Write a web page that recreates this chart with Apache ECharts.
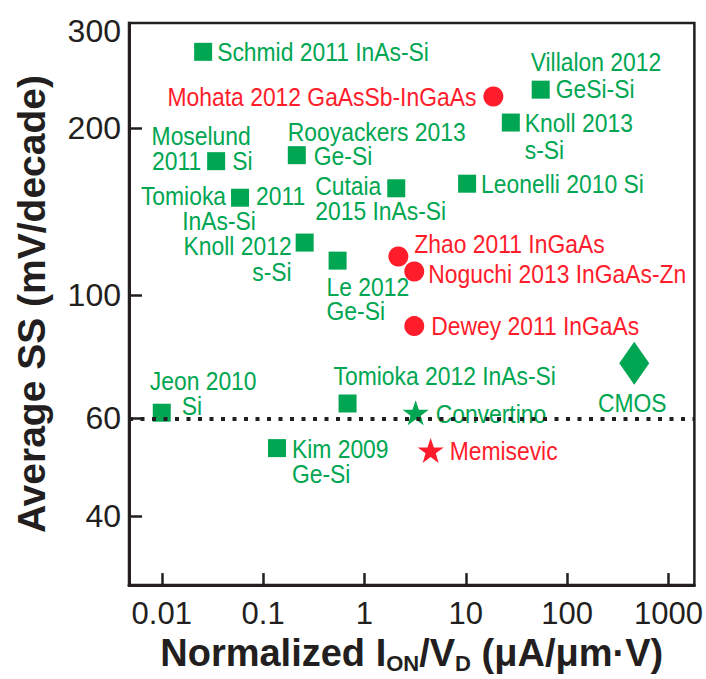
<!DOCTYPE html>
<html>
<head>
<meta charset="utf-8">
<script src="https://cdn.jsdelivr.net/npm/echarts@6/dist/echarts.min.js"></script>
<style>
  html, body { margin: 0; padding: 0; background: #ffffff; }
  #chart { width: 706px; height: 679px; }
</style>
</head>
<body>
<div id="chart"></div>
<script>
// ---- Data ----
const squareNames = ['Schmid 2011 InAs-Si', 'Villalon 2012 GeSi-Si', 'Knoll 2013 s-Si', 'Moselund 2011 Si',
  'Rooyackers 2013 Ge-Si', 'Tomioka 2011 InAs-Si', 'Cutaia 2015 InAs-Si', 'Leonelli 2010 Si',
  'Knoll 2012 s-Si', 'Le 2012 Ge-Si', 'Jeon 2010 Si', 'Tomioka 2012 InAs-Si', 'Kim 2009 Ge-Si'];
const squareIon = [0.0256, 54.8, 27.8, 0.0344, 0.215, 0.0592, 2.06, 10.3, 0.257, 0.543, 0.01, 0.681, 0.137];
const squareSS  = [275, 235, 205, 174.6, 179, 150, 156, 159, 124.5, 115.5, 61.4, 63.8, 53];

const circleNames = ['Mohata 2012 GaAsSb-InGaAs', 'Zhao 2011 InGaAs', 'Noguchi 2013 InGaAs-Zn', 'Dewey 2011 InGaAs'];
const circleIon = [18.7, 2.16, 3.1, 3.1];
const circleSS  = [228.4, 117.5, 110.4, 88];

const greenStarNames = ['Convertino'];
const greenStarIon = [3.2];
const greenStarSS  = [61.4];

const redStarNames = ['Memisevic'];
const redStarIon = [4.5];
const redStarSS  = [52.5];

const cmosNames = ['CMOS'];
const cmosIon = [459];
const cmosSS  = [75.4];

const xTicks = [0.01, 0.1, 1, 10, 100, 1000];
const xTickLabels = ['0.01', '0.1', '1', '10', '100', '1000'];
const yTickMarks = [40, 60, 100, 200];
const yTicks = [40, 60, 100, 200, 300];
const yTickLabels = ['40', '60', '100', '200', '300'];
const idealSS = 60;

// ---- Styling / layout ----
const GREEN = '#00a651';
const RED = '#ff1c2b';
const INK = '#231f20';
const LABEL_FONT = '"Liberation Sans", Arial, sans-serif';
const AXIS_FONT = '"Liberation Sans", Arial, Helvetica, sans-serif';
const LABEL_SQUEEZE = 0.88;

// label pieces: [text, dx, dy, align] relative to the marker centre (px)
const labelLayout = {
  'Schmid 2011 InAs-Si': [['Schmid 2011 InAs-Si', 14, 0, 'left']],
  'Villalon 2012 GeSi-Si': [['Villalon 2012', -10, -28, 'left'], ['GeSi-Si', 15, -1, 'left']],
  'Knoll 2013 s-Si': [['Knoll 2013', 14, 0, 'left'], ['s-Si', 14, 27, 'left']],
  'Moselund 2011 Si': [['Moselund', -15, -25, 'center'], ['2011', -15, 0, 'right'], ['Si', 16, 0, 'left']],
  'Rooyackers 2013 Ge-Si': [['Rooyackers 2013', -9, -23, 'left'], ['Ge-Si', 17, 1, 'left']],
  'Tomioka 2011 InAs-Si': [['Tomioka', -14, -2, 'right'], ['2011', 16, -2, 'left'], ['InAs-Si', -21, 23, 'center']],
  'Cutaia 2015 InAs-Si': [['Cutaia', -15, -2, 'right'], ['2015 InAs-Si', -81, 23, 'left']],
  'Leonelli 2010 Si': [['Leonelli 2010 Si', 14, 0, 'left']],
  'Knoll 2012 s-Si': [['Knoll 2012', -13, 3, 'right'], ['s-Si', -13, 29, 'right']],
  'Le 2012 Ge-Si': [['Le 2012', -11, 26, 'left'], ['Ge-Si', -11, 50, 'left']],
  'Jeon 2010 Si': [['Jeon 2010', -12, -32, 'left'], ['Si', 20, -7, 'left']],
  'Tomioka 2012 InAs-Si': [['Tomioka 2012 InAs-Si', -14, -28, 'left']],
  'Kim 2009 Ge-Si': [['Kim 2009', 15, 1, 'left'], ['Ge-Si', 15, 26, 'left']],
  'Mohata 2012 GaAsSb-InGaAs': [['Mohata 2012 GaAsSb-InGaAs', -17, 0, 'right']],
  'Zhao 2011 InGaAs': [['Zhao 2011 InGaAs', 16, -13, 'left']],
  'Noguchi 2013 InGaAs-Zn': [['Noguchi 2013 InGaAs-Zn', 14, 2, 'left']],
  'Dewey 2011 InGaAs': [['Dewey 2011 InGaAs', 17, 0, 'left']],
  'Convertino': [['Convertino', 20, 1, 'left']],
  'Memisevic': [['Memisevic', 19, 1, 'left']],
  'CMOS': [['CMOS', -2, 40, 'center']]
};

const groups = [
  { names: squareNames, ion: squareIon, ss: squareSS, color: GREEN },
  { names: circleNames, ion: circleIon, ss: circleSS, color: RED },
  { names: greenStarNames, ion: greenStarIon, ss: greenStarSS, color: GREEN },
  { names: redStarNames, ion: redStarIon, ss: redStarSS, color: RED },
  { names: cmosNames, ion: cmosIon, ss: cmosSS, color: GREEN }
];

const pieces = [];
groups.forEach(g => {
  g.names.forEach((n, i) => {
    (labelLayout[n] || []).forEach(p => {
      pieces.push({ x: g.ion[i], y: g.ss[i], text: p[0], dx: p[1], dy: p[2], align: p[3], color: g.color });
    });
  });
});

const STAR = 'path://M50,0 L61.8,35.1 L98,35.1 L68.9,56.8 L79.4,92 L50,70.7 L20.6,92 L31.1,56.8 L2,35.1 L38.2,35.1 Z';

function pts(names, ion, ss) {
  return names.map((n, i) => ({ name: n, value: [ion[i], ss[i]] }));
}

const chart = echarts.init(document.getElementById('chart'), null, { renderer: 'svg' });
chart.setOption({
  animation: false,
  backgroundColor: '#ffffff',
  grid: { left: 129, top: 23, right: 9, bottom: 90, show: true, borderColor: INK, borderWidth: 2.5, backgroundColor: 'transparent' },
  xAxis: {
    type: 'log', logBase: 10, min: 0.00475, max: 1800,
    axisLine: { show: true, lineStyle: { color: INK, width: 3 } },
    axisTick: { show: true, inside: true, length: 12, lineStyle: { color: INK, width: 2.5 }, customValues: xTicks },
    axisLabel: {
      customValues: xTicks, margin: 13, color: INK, fontSize: 31, fontFamily: AXIS_FONT,
      formatter: v => { const k = xTicks.findIndex(t => Math.abs(Math.log10(t) - Math.log10(v)) < 1e-6); return k >= 0 ? xTickLabels[k] : ''; }
    },
    splitLine: { show: false }, minorTick: { show: false },
    name: '{b|Normalized I}{s|ON}{b|/V}{s|D}{b| (μA/μm·V)}',
    nameLocation: 'middle', nameGap: 46,
    nameTextStyle: {
      color: INK,
      rich: {
        b: { fontSize: 38, fontWeight: 'bold', fontFamily: AXIS_FONT, color: INK, lineHeight: 42 },
        s: { fontSize: 22, fontWeight: 'bold', fontFamily: AXIS_FONT, color: INK, verticalAlign: 'bottom', lineHeight: 22 }
      }
    }
  },
  yAxis: {
    type: 'log', logBase: 10, min: 30, max: 310,
    axisLine: { show: true, lineStyle: { color: INK, width: 3 } },
    axisTick: { show: true, inside: true, length: 13, lineStyle: { color: INK, width: 2.5 }, customValues: yTickMarks },
    axisLabel: {
      customValues: yTicks, margin: 8, color: INK, fontSize: 32, fontFamily: AXIS_FONT,
      formatter: v => { const k = yTicks.findIndex(t => Math.abs(Math.log10(t) - Math.log10(v)) < 1e-6); return k >= 0 ? yTickLabels[k] : ''; }
    },
    splitLine: { show: false }, minorTick: { show: false },
    name: 'Average SS (mV/decade)',
    nameLocation: 'middle', nameGap: 78,
    nameTextStyle: { fontSize: 39, fontWeight: 'bold', fontFamily: AXIS_FONT, color: INK }
  },
  series: [
    {
      name: 'Si/Ge/InAs-Si TFETs', type: 'scatter', symbol: 'rect', symbolSize: 18,
      itemStyle: { color: GREEN, opacity: 1 },
      data: pts(squareNames, squareIon, squareSS),
      markLine: {
        silent: true, symbol: 'none', label: { show: false },
        lineStyle: { color: INK, width: 4, type: [4, 7.5], opacity: 1 },
        data: [{ yAxis: idealSS }]
      },
      z: 3
    },
    {
      name: 'III-V TFETs', type: 'scatter', symbol: 'circle', symbolSize: 20,
      itemStyle: { color: RED, opacity: 1 },
      data: pts(circleNames, circleIon, circleSS), z: 3
    },
    {
      name: 'Convertino', type: 'scatter', symbol: STAR, symbolSize: [26, 25],
      itemStyle: { color: GREEN, opacity: 1 },
      data: pts(greenStarNames, greenStarIon, greenStarSS), z: 3
    },
    {
      name: 'Memisevic', type: 'scatter', symbol: STAR, symbolSize: [26, 25],
      itemStyle: { color: RED, opacity: 1 },
      data: pts(redStarNames, redStarIon, redStarSS), z: 3
    },
    {
      name: 'CMOS', type: 'scatter', symbol: 'diamond', symbolSize: [30, 43],
      itemStyle: { color: GREEN, opacity: 1 },
      data: pts(cmosNames, cmosIon, cmosSS), z: 3
    },
    {
      name: 'labels', type: 'custom', clip: false, silent: true, z: 4,
      data: pieces.map(p => [p.x, p.y]),
      renderItem: (params, api) => {
        const p = pieces[params.dataIndex];
        const c = api.coord([api.value(0), api.value(1)]);
        return {
          type: 'text', x: c[0] + p.dx, y: c[1] + p.dy, scaleX: LABEL_SQUEEZE, scaleY: 1,
          style: { text: p.text, fill: p.color, fontSize: 26, fontFamily: LABEL_FONT, align: p.align, verticalAlign: 'middle' }
        };
      }
    }
  ]
});
</script>
</body>
</html>
